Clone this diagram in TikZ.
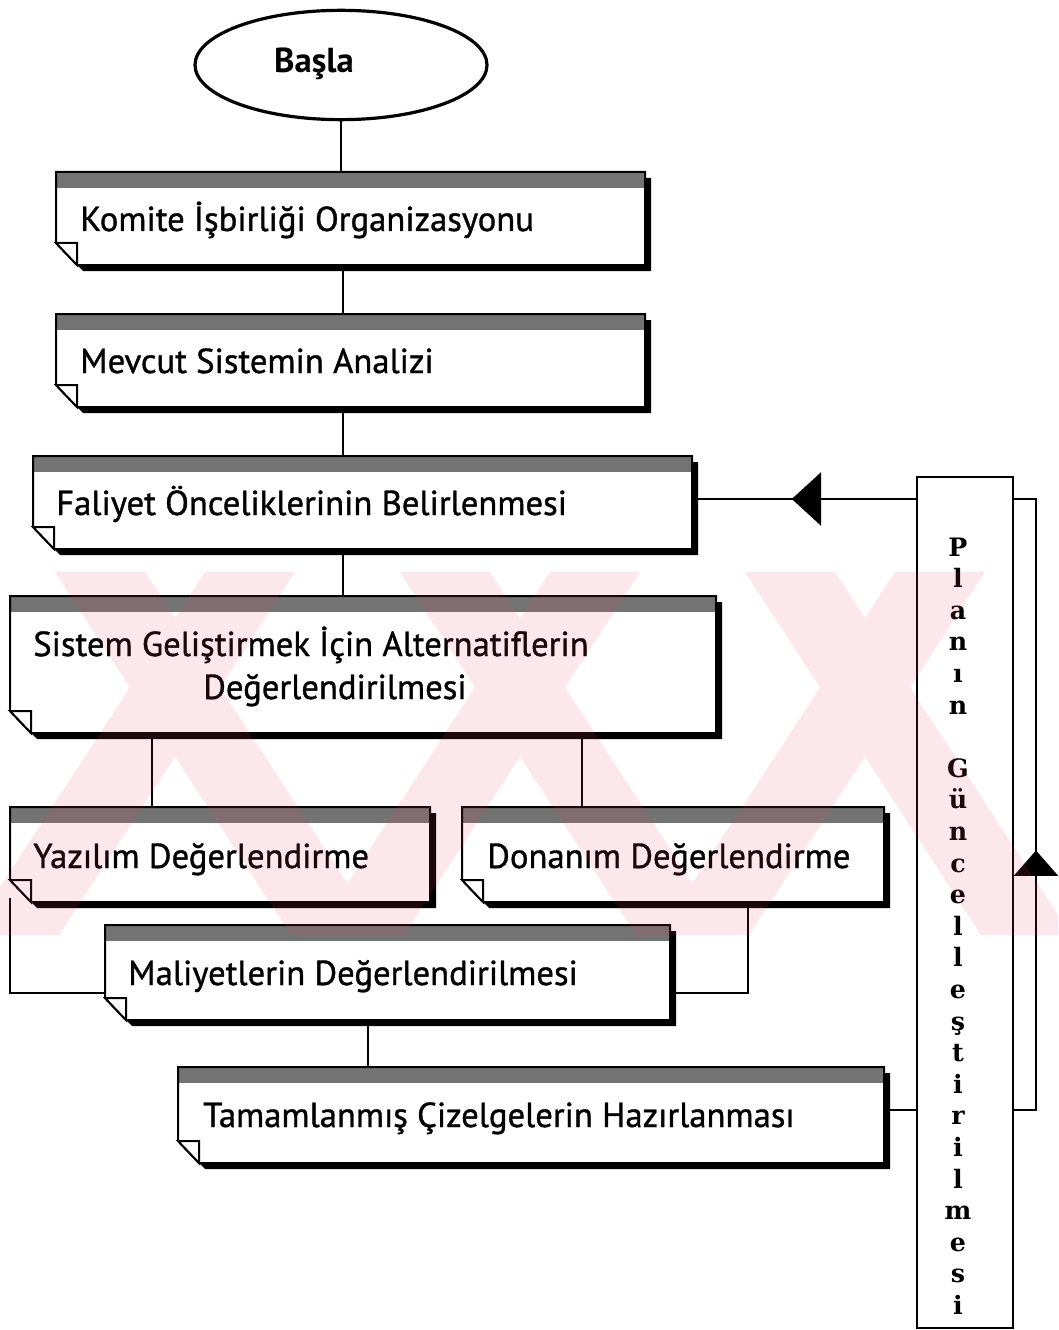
\documentclass[tikz,border=0pt]{standalone}
\usepackage{fontspec}
\setmainfont{PT Sans}
\newfontfamily\boxfont{PT Sans}[FakeBold=1]
\newfontfamily\lettersfont{DejaVu Serif}
\usetikzlibrary{shapes.geometric,fit,calc,decorations.markings,arrows.meta}

\definecolor{wmpink}{RGB}{235,70,100}

\tikzset{
  boxline/.style={line width=1.5pt, line join=miter},
  conn/.style={line width=1.5pt},
  boxtext/.style={anchor=base west, inner sep=0pt, font=\boxfont\fontsize{26}{30}\selectfont},
  vletter/.style={anchor=base, inner sep=0pt, font=\lettersfont\bfseries\fontsize{19}{24}\selectfont},
}

% note box with stippled title band, drop shadow and folded lower-left corner
% #1 name, #2 left, #3 top, #4 right, #5 bottom
\newcommand\notebox[5]{%
  \coordinate (#1-nw) at (#2,#3);
  \coordinate (#1-se) at (#4,#5);
  \fill[black] (#2+6,#3+6) -- (#4+6,#3+6) -- (#4+6,#5+6) -- (#2+27,#5+6) -- (#2+6,#5-16) -- cycle;
  \fill[white] (#2,#3) -- (#4,#3) -- (#4,#5) -- (#2+21,#5) -- (#2,#5-22) -- cycle;
  \fill[black!55] (#2,#3) rectangle (#4,#3+16);
  \draw[boxline] (#2,#3) -- (#4,#3) -- (#4,#5) -- (#2+21,#5) -- (#2,#5-22) -- cycle;
  \draw[boxline, fill=white] (#2,#5-22) -- (#2+21,#5-22) -- (#2+21,#5) -- cycle;
  \node[fit=(#1-nw)(#1-se), inner sep=0pt] (#1) {};
}

\begin{document}
\begin{tikzpicture}[x=0.75pt,y=-0.75pt]
\fill[white] (0,0) rectangle (1058,1330);
\useasboundingbox (0,0) rectangle (1058,1330);

% start terminal
\node[ellipse, draw, line width=2.4pt, minimum width=219pt, minimum height=82pt, inner sep=0pt] (basla) at (341,65) {};
\node[anchor=base, inner sep=0pt, font=\bfseries\fontsize{26}{30}\selectfont] (basla-t) at (314,73) {Başla};

% process boxes
\notebox{komite}{56}{172}{645}{265}
\node[boxtext] (komite-t) at (80,231) {Komite İşbirliği Organizasyonu};

\notebox{mevcut}{56}{314}{645}{407}
\node[boxtext] (mevcut-t) at (80,373) {Mevcut Sistemin Analizi};

\notebox{faliyet}{33}{456}{692}{549}
\node[boxtext] (faliyet-t) at (56,515) {Faliyet Önceliklerinin Belirlenmesi};

\notebox{sistem}{10}{596}{716}{733}
\node[boxtext] (sistem-t1) at (33,656) {Sistem Geliştirmek İçin Alternatiflerin};
\node[boxtext] (sistem-t2) at (203,699) {Değerlendirilmesi};

\notebox{yazilim}{10}{807}{430}{902}
\node[boxtext] (yazilim-t) at (33,868) {Yazılım Değerlendirme};

\notebox{donanim}{462}{807}{884}{902}
\node[boxtext] (donanim-t) at (487,868) {Donanım Değerlendirme};

\notebox{maliyet}{105}{925}{670}{1020}
\node[boxtext] (maliyet-t) at (128,985) {Maliyetlerin Değerlendirilmesi};

\notebox{tamam}{178}{1067}{884}{1163}
\node[boxtext] (tamam-t) at (203,1127) {Tamamlanmış Çizelgelerin Hazırlanması};

% plan update column
\coordinate (plan-nw) at (917,477);
\coordinate (plan-se) at (1013,1328);
\node[fit=(plan-nw)(plan-se), inner sep=0pt, draw, line width=1.8pt] (plan) {};
\foreach \ch [count=\k from 0] in {P,l,a,n,ı,n,{},G,ü,n,c,e,l,l,e,ş,t,i,r,i,l,m,e,s,i}
  \node[vletter] (plan-l\k) at (958,556+31.6*\k) {\ch};

% guide coordinates for connector routes
\coordinate (spine) at (343,0);
\coordinate (ysx) at (152,0);
\coordinate (dsx) at (582,0);
\coordinate (dmx) at (748,0);
\coordinate (mtx) at (368,0);
\coordinate (mj) at (0,993);
\coordinate (fy) at (0,499);
\coordinate (ty) at (0,1110);
\coordinate (loopx) at (1036,0);

% connectors
\draw[conn] (basla.south) -- (basla.south |- komite.north);
\draw[conn] (komite.south -| spine) -- (mevcut.north -| spine);
\draw[conn] (mevcut.south -| spine) -- (faliyet.north -| spine);
\draw[conn] (faliyet.south -| spine) -- (sistem.north -| spine);
\draw[conn] (sistem.south -| ysx) -- (yazilim.north -| ysx);
\draw[conn] (sistem.south -| dsx) -- (donanim.north -| dsx);
\draw[conn] ([yshift=3pt]yazilim.south west) |- (maliyet.west |- mj);
\draw[conn] (donanim.south -| dmx) |- ([xshift=4.5pt]maliyet.east |- mj);
\draw[conn] (maliyet.south -| mtx) -- (tamam.north -| mtx);
\draw[conn] (tamam.east |- ty) -- (plan.west |- ty);
\draw[conn, postaction={decorate}, decoration={markings,
      mark=at position 93pt with {\arrow{Triangle[length=22pt,width=40pt]}}}]
  (plan.west |- fy) -- (faliyet.east |- fy);
\draw[conn, postaction={decorate}, decoration={markings,
      mark=at position 211pt with {\arrow{Triangle[length=19pt,width=33pt]}}}]
  (plan.east |- ty) -- (loopx |- ty) -- (loopx |- fy) -- (plan.east |- fy);

% faint pink watermark bands
\begin{scope}
  \clip (0,572) rectangle (1058,935);
  \fill[wmpink, opacity=0.12]
    \foreach \a in {55,400,745} { (\a,572) -- (\a+90,572) -- (\a+326,935) -- (\a+236,935) -- cycle }
    \foreach \b in {205,550,895} { (\b,572) -- (\b+90,572) -- (\b-146,935) -- (\b-236,935) -- cycle };
\end{scope}
\end{tikzpicture}
\end{document}
